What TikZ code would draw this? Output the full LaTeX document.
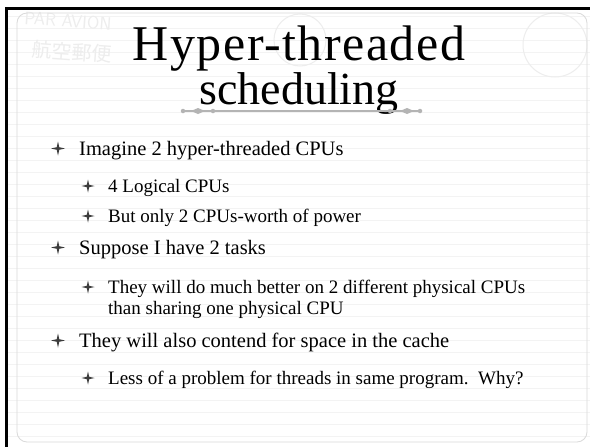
\documentclass[tikz,border=0pt]{standalone}
\usepackage{fontspec}
\setmainfont{Liberation Serif}
\newfontfamily\stampcjk{Noto Sans CJK JP}
\definecolor{bulletgray}{HTML}{3C3C3C}
\definecolor{rulegray}{HTML}{B4B4B4}
\definecolor{framegray}{HTML}{DADADA}
\definecolor{paperline}{HTML}{F3F3F3}
\definecolor{stampink}{HTML}{EDEDED}
\tikzset{
  titletext/.style={anchor=base, inner sep=0pt, align=center},
  mainitem/.style={anchor=base west, inner sep=0pt, font=\fontsize{20.5}{24}\selectfont},
  subitem/.style={anchor=base west, inner sep=0pt, font=\fontsize{19}{22}\selectfont},
  pics/starbullet/.style={code={
    \fill[bulletgray] (0:#1) -- (45:0.26*#1) -- (90:#1) -- (135:0.26*#1)
      -- (180:#1) -- (225:0.26*#1) -- (270:#1) -- (315:0.26*#1) -- cycle;}},
  ornadot/.style={circle, fill=rulegray, inner sep=0pt, minimum size=4.5pt},
  ornadiamond/.style={fill=rulegray}
}
\begin{document}
\begin{tikzpicture}[x=1pt, y=-1pt]
\useasboundingbox (0,0) rectangle (590,447);
\fill[white] (0,0) rectangle (590,447);

% ruled paper texture
\foreach \yy in {16,28,...,440}
  \draw[paperline, line width=0.6pt] (8,\yy) -- (590,\yy);

% faint airmail stamps along the top
\node[stampink, rotate=-4, font=\fontsize{18}{18}\selectfont\sffamily] (paravion) at (68,21) {PAR AVION};
\node[stampink, rotate=-4, font=\fontsize{20}{20}\selectfont\stampcjk] (kouku) at (72,52) {航空郵便};
\draw[stampink, line width=1pt] (555,45) circle (32);
\draw[stampink, line width=1pt] (300,40) circle (26);

% slide frame
\draw[framegray, line width=0.8pt, rounded corners=10pt] (17,13) rectangle (587,442);
\fill[black] (5,7) rectangle (590,10);
\fill[black] (5,7) rectangle (8,447);

% title, two lines set tight
\node[titletext, font=\fontsize{50}{41}\selectfont] (title) at (299,104)
  {{\addfontfeature{LetterSpace=3}Hyper-threaded}\\{\fontsize{46}{41}\selectfont scheduling}};

% ornamental rule under the title
\node[ornadot] (dotL) at (183,111) {};
\node[ornadot] (dotL2) at (213,111) {};
\node[ornadot] (dotR2) at (390,111) {};
\node[ornadot] (dotR) at (420,111) {};
\draw[rulegray, line width=1.3pt] (dotL) -- (dotR);
\fill[ornadiamond] (191,111) -- (198,108) -- (205,111) -- (198,114) -- cycle;
\fill[ornadiamond] (400,111) -- (407,108) -- (414,111) -- (407,114) -- cycle;

% bullet list
\pic at (58,148.5) {starbullet=7};
\node[mainitem] (imagine) at (79,155) {Imagine 2 hyper-threaded CPUs};
\pic at (88,186) {starbullet=6.5};
\node[subitem] (logical) at (108,192) {4 Logical CPUs};
\pic at (88,216) {starbullet=6.5};
\node[subitem] (power) at (108,222) {But only 2 CPUs-worth of power};
\pic at (58,247.5) {starbullet=7};
\node[mainitem] (suppose) at (79,254) {Suppose I have 2 tasks};
\pic at (88,287) {starbullet=6.5};
\node[subitem] (better) at (108,293) {They will do much better on 2 different physical CPUs};
\node[subitem] (better2) at (108,314) {than sharing one physical CPU};
\pic at (58,340.5) {starbullet=7};
\node[mainitem] (contend) at (79,347) {They will also contend for space in the cache};
\pic at (88,378) {starbullet=6.5};
\node[subitem] (less) at (108,384) {Less of a problem for threads in same program.\ \ Why?};
\end{tikzpicture}
\end{document}
